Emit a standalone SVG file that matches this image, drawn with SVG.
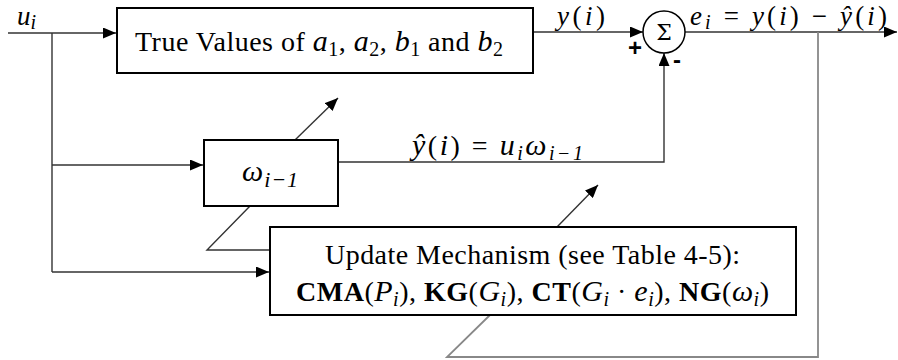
<svg xmlns="http://www.w3.org/2000/svg" width="898" height="360" viewBox="0 0 898 360">
<defs>
<marker id="ah" markerUnits="userSpaceOnUse" markerWidth="13" markerHeight="11" refX="13" refY="5.5" orient="auto">
<path d="M0,0 L13,5.5 L0,11 z" fill="#000"/>
</marker>
<style>
.box{fill:#fff;stroke:#000;stroke-width:2}
.ln{fill:none;stroke:#333;stroke-width:1.4}
.gr{fill:none;stroke:#888;stroke-width:1.8}
.t{font-family:"Liberation Serif",serif;font-size:28px;fill:#000}
.tl{font-family:"Liberation Serif",serif;font-size:27px;fill:#000}
.m{font-style:italic;font-size:30px}
.tl .m{font-size:27px}
.s{font-size:20px;font-style:italic}
.sn{font-size:20px}
.b{font-weight:bold}
.pm{font-family:"Liberation Sans",sans-serif;font-size:24px;font-weight:bold;fill:#000}
</style>
</defs>
<rect width="898" height="360" fill="#fff"/>
<g id="connectors">
<path class="ln" d="M8,33 H116" marker-end="url(#ah)"/>
<path class="ln" d="M52,33 V272"/>
<path class="ln" d="M52,165 H203" marker-end="url(#ah)"/>
<path class="ln" d="M52,272 H269" marker-end="url(#ah)"/>
<path class="ln" d="M533,32 H643" marker-end="url(#ah)"/>
<path class="ln" d="M338,162 H664 V53" marker-end="url(#ah)"/>
<path class="ln" d="M685,32 H897" marker-end="url(#ah)"/>
<path class="gr" d="M818,32 V357 H447 L490,315"/>
<path class="ln" d="M557,227 L598,185" marker-end="url(#ah)"/>
<path class="ln" d="M270,250 H207 L250,206"/>
<path class="ln" d="M295,140 L338,98" marker-end="url(#ah)"/>
</g>
<g id="input-label">
<text class="tl" x="17" y="25"><tspan class="m">u</tspan><tspan class="s" dy="4">i</tspan></text>
</g>
<g id="true-values">
<rect class="box" x="117" y="8" width="416" height="65"/>
<text class="t" x="135" y="51" textLength="368" lengthAdjust="spacing">True Values of <tspan class="m">a</tspan><tspan class="sn" dy="5">1</tspan><tspan dy="-5">, </tspan><tspan class="m">a</tspan><tspan class="sn" dy="5">2</tspan><tspan dy="-5">, </tspan><tspan class="m">b</tspan><tspan class="sn" dy="5">1</tspan><tspan dy="-5"> and </tspan><tspan class="m">b</tspan><tspan class="sn" dy="5">2</tspan></text>
</g>
<g id="y-label">
<text class="tl" x="557" y="25" textLength="48" lengthAdjust="spacing"><tspan class="m">y</tspan>(<tspan class="m">i</tspan>)</text>
</g>
<g id="sum">
<circle cx="664" cy="32" r="21" fill="#fff" stroke="#000" stroke-width="1.5"/>
<text x="664" y="40" text-anchor="middle" style="font-family:'DejaVu Serif',serif;font-size:22px">Σ</text>
<text class="pm" x="628" y="56">+</text>
<text class="pm" x="673" y="68">-</text>
</g>
<g id="error-label">
<text class="tl" x="690" y="25" textLength="197" lengthAdjust="spacing"><tspan class="m">e</tspan><tspan class="s" dy="4">i</tspan><tspan dy="-4"> = </tspan><tspan class="m">y</tspan>(<tspan class="m">i</tspan>) − <tspan class="m">ŷ</tspan>(<tspan class="m">i</tspan>)</text>
</g>
<g id="omega">
<rect class="box" x="204" y="140" width="134" height="66"/>
<text class="t" x="242" y="181" textLength="56" lengthAdjust="spacing"><tspan class="m">ω</tspan><tspan class="s" dy="6" style="font-size:22px">i−1</tspan></text>
</g>
<g id="yhat-label">
<text class="t" x="412" y="155" textLength="171" lengthAdjust="spacing"><tspan class="m">ŷ</tspan>(<tspan class="m">i</tspan>) = <tspan class="m">u</tspan><tspan class="s" dy="5">i</tspan><tspan class="m" dy="-5">ω</tspan><tspan class="s" dy="5">i−1</tspan></text>
</g>
<g id="update">
<rect class="box" x="270" y="227" width="526" height="88"/>
<text class="t" x="325" y="264" textLength="415" lengthAdjust="spacing">Update Mechanism (see Table 4-5):</text>
<text class="t" x="296" y="301" textLength="473" lengthAdjust="spacing"><tspan class="b">CMA</tspan>(<tspan class="m">P</tspan><tspan class="s" dy="5">i</tspan><tspan dy="-5">), </tspan><tspan class="b">KG</tspan>(<tspan class="m">G</tspan><tspan class="s" dy="5">i</tspan><tspan dy="-5">), </tspan><tspan class="b">CT</tspan>(<tspan class="m">G</tspan><tspan class="s" dy="5">i</tspan><tspan dy="-5"> · </tspan><tspan class="m">e</tspan><tspan class="s" dy="5">i</tspan><tspan dy="-5">), </tspan><tspan class="b">NG</tspan>(<tspan class="m">ω</tspan><tspan class="s" dy="5">i</tspan><tspan dy="-5">)</tspan></text>
</g>
</svg>
